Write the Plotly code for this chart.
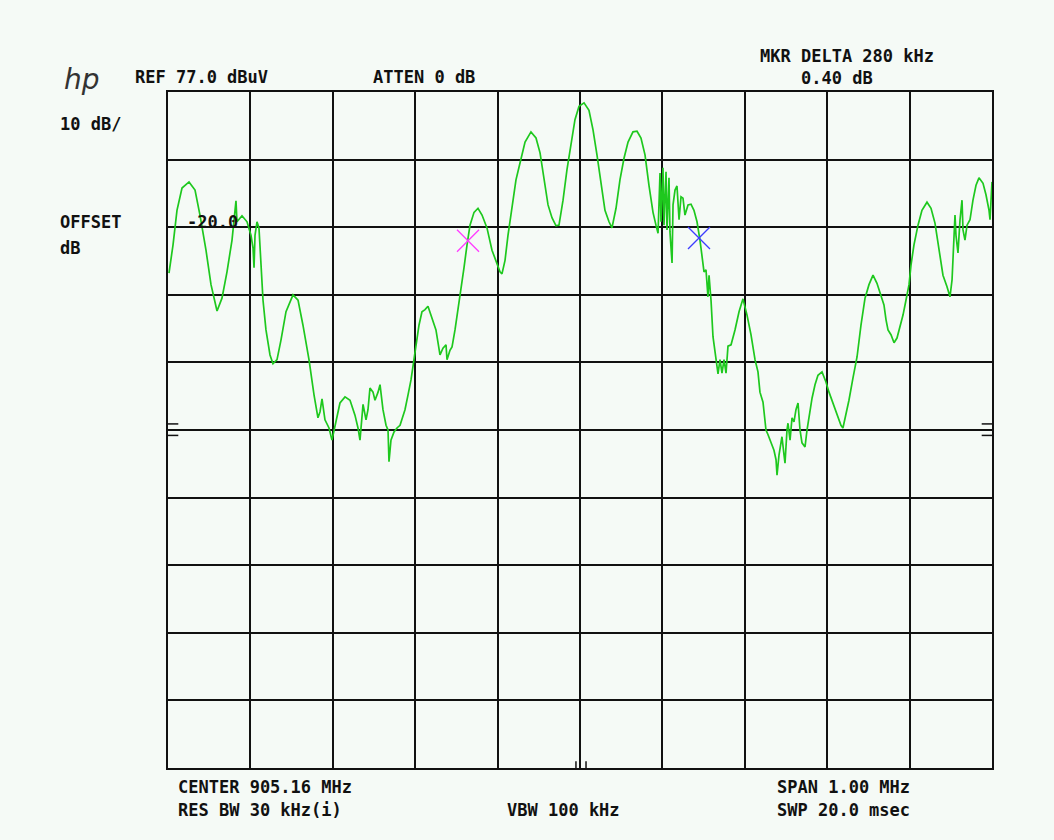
import plotly.graph_objects as go

# ---- instrument settings ----
REF_LEVEL = 77.0          # dBuV (top graticule)
DB_PER_DIV = 10.0
CENTER_MHZ = 905.16
SPAN_MHZ = 1.00
F_START = CENTER_MHZ - SPAN_MHZ / 2
F_STOP = CENTER_MHZ + SPAN_MHZ / 2
Y_BOTTOM = REF_LEVEL - 10 * DB_PER_DIV

# ---- trace (frequency MHz, level dBuV) ----
freq_mhz = [
    904.6612, 904.6661, 904.6709, 904.6770, 904.6855, 904.6928, 904.6988, 904.7061, 904.7122, 904.7195,
    904.7255, 904.7316, 904.7377, 904.7413, 904.7425, 904.7437, 904.7498, 904.7559, 904.7607, 904.7632,
    904.7644, 904.7656, 904.7680, 904.7704, 904.7729, 904.7753, 904.7789, 904.7838, 904.7874, 904.7923,
    904.7971, 904.8032, 904.8117, 904.8178, 904.8238, 904.8311, 904.8372, 904.8420, 904.8445, 904.8469,
    904.8505, 904.8554, 904.8590, 904.8639, 904.8687, 904.8748, 904.8809, 904.8869, 904.8906, 904.8930,
    904.8967, 904.9003, 904.9027, 904.9051, 904.9088, 904.9112, 904.9149, 904.9173, 904.9209, 904.9246,
    904.9270, 904.9282, 904.9306, 904.9343, 904.9379, 904.9416, 904.9440, 904.9476, 904.9513, 904.9549,
    904.9585, 904.9610, 904.9646, 904.9682, 904.9719, 904.9755, 904.9804, 904.9852, 904.9901, 904.9937,
    904.9974, 904.9986, 905.0022, 905.0047, 905.0083, 905.0119, 905.0156, 905.0192, 905.0229, 905.0265,
    905.0314, 905.0362, 905.0411, 905.0471, 905.0532, 905.0593, 905.0629, 905.0653, 905.0690, 905.0726,
    905.0775, 905.0823, 905.0872, 905.0933, 905.1005, 905.1066, 905.1115, 905.1163, 905.1212, 905.1260,
    905.1309, 905.1345, 905.1394, 905.1442, 905.1491, 905.1539, 905.1588, 905.1649, 905.1709, 905.1758,
    905.1806, 905.1855, 905.1903, 905.1952, 905.1988, 905.2037, 905.2085, 905.2134, 905.2183, 905.2243,
    905.2292, 905.2340, 905.2389, 905.2437, 905.2486, 905.2522, 905.2547, 905.2571, 905.2583, 905.2607,
    905.2619, 905.2644, 905.2656, 905.2680, 905.2692, 905.2717, 905.2729, 905.2753, 905.2777, 905.2802,
    905.2826, 905.2850, 905.2874, 905.2911, 905.2947, 905.2983, 905.3020, 905.3056, 905.3081, 905.3105,
    905.3129, 905.3153, 905.3166, 905.3190, 905.3214, 905.3250, 905.3275, 905.3299, 905.3323, 905.3348,
    905.3372, 905.3396, 905.3433, 905.3481, 905.3530, 905.3578, 905.3627, 905.3675, 905.3724, 905.3760,
    905.3784, 905.3821, 905.3857, 905.3882, 905.3906, 905.3930, 905.3954, 905.3979, 905.3991, 905.4015,
    905.4039, 905.4051, 905.4076, 905.4088, 905.4112, 905.4124, 905.4149, 905.4173, 905.4197, 905.4221,
    905.4246, 905.4270, 905.4294, 905.4331, 905.4355, 905.4379, 905.4416, 905.4452, 905.4488, 905.4537,
    905.4585, 905.4622, 905.4658, 905.4694, 905.4731, 905.4767, 905.4791, 905.4828, 905.4864, 905.4913,
    905.4962, 905.5010, 905.5059, 905.5107, 905.5156, 905.5204, 905.5253, 905.5289, 905.5314, 905.5338,
    905.5374, 905.5411, 905.5447, 905.5483, 905.5520, 905.5556, 905.5593, 905.5617, 905.5653, 905.5702,
    905.5750, 905.5811, 905.5860, 905.5908, 905.5957, 905.6005, 905.6054, 905.6090, 905.6115, 905.6127,
    905.6151, 905.6163, 905.6187, 905.6212, 905.6236, 905.6248, 905.6272, 905.6297, 905.6333, 905.6369,
    905.6406, 905.6442, 905.6491, 905.6527, 905.6564, 905.6576, 905.6588, 905.6600,
]
level_dbuv = [
    50.2, 54.4, 59.5, 62.8, 63.7, 62.5, 58.8, 53.6, 48.5, 44.6,
    46.5, 50.4, 55.1, 58.8, 60.9, 57.8, 58.7, 57.8, 55.8, 53.9,
    51.0, 55.8, 57.8, 56.9, 52.1, 46.2, 41.8, 38.1, 36.8, 37.4,
    40.3, 44.5, 47.0, 46.2, 42.5, 37.4, 32.2, 28.8, 29.7, 31.6,
    28.5, 27.3, 25.5, 28.5, 31.0, 31.9, 31.4, 29.2, 27.3, 25.5,
    30.8, 28.5, 30.0, 33.2, 32.6, 31.4, 32.6, 33.7, 30.0, 27.7,
    27.0, 22.3, 25.5, 26.7, 27.3, 27.7, 28.5, 30.0, 32.2, 34.4,
    37.4, 39.6, 42.5, 44.5, 44.8, 45.3, 43.6, 41.8, 38.1, 39.1,
    39.6, 37.4, 38.8, 39.3, 41.8, 44.8, 47.4, 51.0, 54.4, 57.3,
    59.2, 59.8, 58.8, 56.9, 53.6, 51.4, 50.4, 50.1, 52.1, 55.8,
    60.3, 64.0, 66.5, 69.6, 71.1, 70.2, 68.0, 64.0, 60.3, 58.4,
    57.2, 57.3, 61.0, 65.5, 69.2, 72.9, 74.9, 75.4, 74.3, 71.4,
    67.7, 63.2, 59.5, 57.8, 56.9, 59.8, 64.0, 67.2, 69.6, 71.1,
    71.2, 70.2, 67.7, 63.2, 59.2, 57.3, 56.1, 65.0, 57.8, 65.8,
    57.3, 65.2, 56.6, 64.3, 56.3, 51.7, 60.3, 62.5, 63.1, 58.1,
    61.5, 61.3, 58.8, 60.3, 60.4, 59.5, 57.8, 55.1, 52.4, 50.4,
    50.7, 46.7, 49.9, 46.2, 40.8, 37.4, 35.3, 37.4, 35.4, 37.4,
    35.4, 39.4, 39.6, 41.8, 44.5, 46.4, 44.0, 41.1, 37.4, 35.6,
    32.6, 31.1, 27.0, 26.3, 25.5, 24.5, 24.0, 22.6, 20.3, 23.3,
    24.8, 26.0, 23.3, 22.1, 27.0, 28.0, 25.5, 28.8, 28.2, 30.0,
    31.0, 27.0, 25.1, 24.5, 27.0, 28.8, 31.7, 33.7, 35.1, 35.6,
    34.1, 32.6, 31.4, 30.3, 28.8, 27.7, 27.3, 29.2, 31.4, 34.7,
    37.8, 42.5, 46.5, 48.5, 49.9, 48.7, 46.7, 45.5, 43.3, 41.8,
    41.1, 39.9, 40.6, 42.1, 44.0, 46.2, 48.5, 51.4, 54.4, 57.3,
    59.5, 60.7, 59.8, 57.6, 53.6, 49.9, 48.2, 46.7, 49.2, 52.6,
    58.8, 55.8, 53.2, 58.1, 61.0, 56.6, 55.1, 57.3, 58.1, 61.0,
    63.2, 64.3, 63.5, 61.8, 59.5, 58.1, 61.0, 63.7,
]

# ---- markers ----
marker_freq = [905.0241, 905.3044]
marker_level = [55.0, 55.4]
marker_colors = ["#ff3cff", "#3c3cff"]

# ---- display-line / center ticks ----
display_line_levels = [27.9, 26.2]
center_tick_freqs = [905.1551, 905.1673]

BG = "#f5faf6"
TRACE = "#1ec81e"
FONT = "DejaVu Sans Mono"

fig = go.Figure()
fig.add_trace(go.Scatter(
    x=freq_mhz, y=level_dbuv, mode="lines",
    line=dict(color=TRACE, width=1.7), hoverinfo="skip", showlegend=False,
))
for f, l, c in zip(marker_freq, marker_level, marker_colors):
    fig.add_trace(go.Scatter(
        x=[f], y=[l], mode="markers", showlegend=False, hoverinfo="skip",
        marker=dict(symbol="x-thin", size=22, color=c, line=dict(width=1.3, color=c)),
    ))

shapes = []
for lv in display_line_levels:
    for x0, x1 in [(0, 0.0125), (0.9875, 1)]:
        shapes.append(dict(type="line", xref="paper", yref="y", x0=x0, x1=x1, y0=lv, y1=lv,
                           line=dict(color="#111", width=1.5)))
for fc in center_tick_freqs:
    shapes.append(dict(type="line", xref="x", yref="y", x0=fc, x1=fc, y0=Y_BOTTOM, y1=Y_BOTTOM + 1.0,
                       line=dict(color="#111", width=1.5)))

txt = dict(family=FONT, size=17, color="#111")


def ann(text, x, y, xanchor="left", font=None):
    return dict(text=text, x=x, y=y, xref="paper", yref="paper", xanchor=xanchor, yanchor="middle",
                showarrow=False, font=font or txt)


annotations = [
    ann("<b>REF 77.0 dBuV</b>", -0.0425, 1.0222),
    ann("<b>ATTEN 0 dB</b>", 0.2464, 1.0222),
    ann("<b>MKR DELTA 280 kHz</b>", 0.716, 1.0533),
    ann("<b>0.40 dB</b>", 0.7658, 1.0214),
    ann("<b>10 dB/</b>", -0.1335, 0.9534),
    ann("<b>OFFSET</b>", -0.1335, 0.8070),
    ann("<b>dB</b>", -0.1335, 0.7692),
    ann("<b>-20.0</b>", 0.0206, 0.8070),
    ann("<b>CENTER 905.16 MHz</b>", 0.0103, -0.0288),
    ann("<b>RES BW 30 kHz(i)</b>", 0.0103, -0.0621),
    ann("<b>VBW 100 kHz</b>", 0.409, -0.0621),
    ann("<b>SPAN 1.00 MHz</b>", 0.7367, -0.0288),
    ann("<b>SWP 20.0 msec</b>", 0.7367, -0.0621),
    ann("<i>hp</i>", -0.1044, 1.0192, xanchor="center",
        font=dict(family="DejaVu Sans", size=28, color="#333")),
]

axis_common = dict(showgrid=True, gridcolor="#111", gridwidth=2, showticklabels=False, ticks="",
                   zeroline=False, showline=True, mirror=True, linecolor="#111", linewidth=2,
                   fixedrange=True)

# page body has an 8px margin; figure is sized so the plot area lands at x 168-992, y 92-768
fig.update_layout(
    width=1046, height=832, autosize=False,
    margin=dict(l=160, r=62, t=84, b=72),
    paper_bgcolor=BG, plot_bgcolor=BG,
    xaxis=dict(range=[F_START, F_STOP], tick0=F_START, dtick=SPAN_MHZ / 10, **axis_common),
    yaxis=dict(range=[Y_BOTTOM, REF_LEVEL], tick0=Y_BOTTOM, dtick=DB_PER_DIV, **axis_common),
    shapes=shapes, annotations=annotations, showlegend=False,
)

fig.write_html("out.html", config={"displayModeBar": False},
               post_script="document.body.style.background='%s';" % BG)
